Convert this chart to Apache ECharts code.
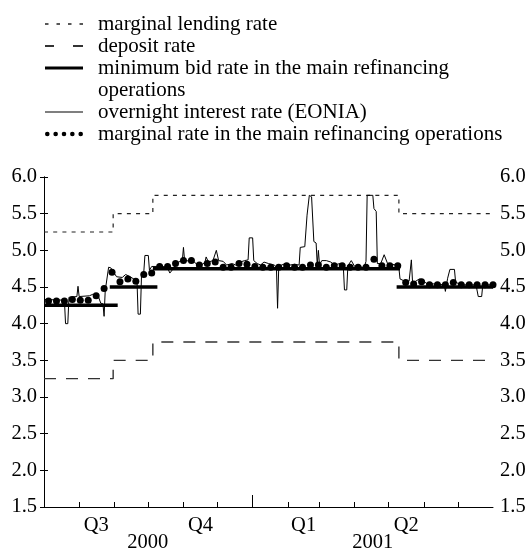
<!DOCTYPE html>
<html>
<head>
<meta charset="utf-8">
<script src="https://cdn.jsdelivr.net/npm/echarts@6/dist/echarts.min.js"></script>
<style>
  html, body { margin: 0; padding: 0; background: #fff; }
  #chart { width: 530px; height: 548px; }
</style>
</head>
<body>
<div id="chart"></div>
<script>
// ECB rates, July 2000 - July 2001
const lendingRate = [['2000-07-01', 5.25], ['2000-08-31', 5.5], ['2000-10-05', 5.75], ['2001-05-10', 5.5], ['2001-07-31', 5.5]];
const depositRate = [['2000-07-01', 3.25], ['2000-08-31', 3.5], ['2000-10-05', 3.75], ['2001-05-10', 3.5], ['2001-07-31', 3.5]];
// minimum bid rate: [from, to, rate]
const minBidRate = [
  ['2000-07-01', '2000-09-04', 4.25],
  ['2000-08-28', '2000-10-09', 4.5],
  ['2000-10-05', '2001-05-11', 4.75],
  ['2001-05-08', '2001-08-01', 4.5]
];
// marginal rate of the weekly tenders, first settlement 5 July 2000
const firstTender = '2000-07-05';
const marginalRate = [
  4.31, 4.31, 4.31, 4.33, 4.32, 4.32, 4.38, 4.48, 4.70, 4.57,
  4.61, 4.58, 4.67, 4.69, 4.78, 4.78, 4.82, 4.86, 4.86, 4.80,
  4.82, 4.84, 4.77, 4.77, 4.82, 4.81, 4.78, 4.77, 4.77, 4.77,
  4.79, 4.77, 4.77, 4.80, 4.80, 4.77, 4.79, 4.79, 4.77, 4.77,
  4.77, 4.88, 4.79, 4.79, 4.79, 4.56, 4.54, 4.57, 4.53, 4.53,
  4.53, 4.56, 4.53, 4.53, 4.53, 4.53, 4.53
];
// EONIA
const eonia = [
  ['2000-07-01', 4.33], ['2000-07-19', 4.32], ['2000-07-20', 4.00], ['2000-07-22', 4.00],
  ['2000-07-23', 4.36], ['2000-07-30', 4.37], ['2000-07-31', 4.51], ['2000-08-01', 4.37],
  ['2000-08-10', 4.38], ['2000-08-13', 4.40], ['2000-08-18', 4.37], ['2000-08-20', 4.28],
  ['2000-08-22', 4.27], ['2000-08-23', 4.10], ['2000-08-24', 4.45], ['2000-08-27', 4.77],
  ['2000-08-29', 4.76], ['2000-08-31', 4.71], ['2000-09-03', 4.64], ['2000-09-08', 4.63],
  ['2000-09-11', 4.67], ['2000-09-15', 4.64], ['2000-09-19', 4.60], ['2000-09-21', 4.59],
  ['2000-09-22', 4.13], ['2000-09-24', 4.13], ['2000-09-25', 4.66], ['2000-09-27', 4.70],
  ['2000-09-28', 4.93], ['2000-10-01', 4.93], ['2000-10-02', 4.73], ['2000-10-04', 4.78],
  ['2000-10-14', 4.78], ['2000-10-18', 4.76], ['2000-10-20', 4.69], ['2000-10-23', 4.75],
  ['2000-10-26', 4.83], ['2000-10-31', 4.86], ['2000-11-01', 5.04], ['2000-11-02', 4.86],
  ['2000-11-10', 4.85], ['2000-11-14', 4.79], ['2000-11-17', 4.80], ['2000-11-20', 4.84],
  ['2000-11-21', 4.91], ['2000-11-23', 4.84], ['2000-11-27', 4.86], ['2000-11-30', 5.00],
  ['2000-12-02', 4.86], ['2000-12-06', 4.85], ['2000-12-09', 4.80], ['2000-12-14', 4.82],
  ['2000-12-17', 4.80], ['2000-12-21', 4.84], ['2000-12-25', 4.86], ['2000-12-28', 4.87],
  ['2000-12-29', 5.17], ['2001-01-01', 5.17], ['2001-01-02', 4.86], ['2001-01-05', 4.82],
  ['2001-01-08', 4.80], ['2001-01-11', 4.84], ['2001-01-15', 4.82], ['2001-01-20', 4.80],
  ['2001-01-22', 4.77], ['2001-01-23', 4.21], ['2001-01-24', 4.76], ['2001-01-25', 4.79],
  ['2001-01-30', 4.82], ['2001-02-03', 4.80], ['2001-02-07', 4.81], ['2001-02-11', 4.80],
  ['2001-02-12', 5.04], ['2001-02-16', 5.05], ['2001-02-18', 5.48], ['2001-02-20', 5.75],
  ['2001-02-22', 5.73], ['2001-02-24', 5.12], ['2001-02-26', 5.10], ['2001-02-27', 4.80],
  ['2001-02-28', 5.00], ['2001-03-01', 4.80], ['2001-03-03', 4.86], ['2001-03-07', 4.86],
  ['2001-03-11', 4.84], ['2001-03-14', 4.80], ['2001-03-19', 4.82], ['2001-03-22', 4.78],
  ['2001-03-23', 4.46], ['2001-03-25', 4.46], ['2001-03-26', 4.79], ['2001-03-29', 4.86],
  ['2001-03-30', 4.87], ['2001-04-01', 4.78], ['2001-04-08', 4.77], ['2001-04-10', 4.80],
  ['2001-04-11', 4.85], ['2001-04-12', 5.75], ['2001-04-17', 5.75], ['2001-04-18', 5.57],
  ['2001-04-20', 5.53], ['2001-04-21', 4.82], ['2001-04-24', 4.82], ['2001-04-27', 4.94],
  ['2001-04-30', 4.82], ['2001-05-03', 4.81], ['2001-05-08', 4.80], ['2001-05-10', 4.76],
  ['2001-05-11', 4.61], ['2001-05-15', 4.58], ['2001-05-19', 4.58], ['2001-05-21', 4.87],
  ['2001-05-22', 4.58], ['2001-05-24', 4.57], ['2001-05-28', 4.61], ['2001-05-31', 4.60],
  ['2001-06-03', 4.55], ['2001-06-19', 4.53], ['2001-06-20', 4.44], ['2001-06-21', 4.53],
  ['2001-06-22', 4.62], ['2001-06-24', 4.74], ['2001-06-28', 4.74], ['2001-06-29', 4.57],
  ['2001-07-03', 4.53], ['2001-07-17', 4.53], ['2001-07-19', 4.37], ['2001-07-22', 4.37],
  ['2001-07-23', 4.53], ['2001-07-31', 4.53]
];

// axis
const axisStart = '2000-07-01';
const axisEnd = '2001-08-01';
const monthTicks = ['2000-08-01', '2000-09-01', '2000-10-01', '2000-11-01', '2000-12-01', '2001-01-01',
  '2001-02-01', '2001-03-01', '2001-04-01', '2001-05-01', '2001-06-01', '2001-07-01'];
const yearTick = ['2001-01-01'];
const quarterLabels = ['Q3', 'Q4', 'Q1', 'Q2'];
const quarterSpans = [['2000-07-01', '2000-10-01'], ['2000-10-01', '2001-01-01'], ['2001-01-01', '2001-04-01'], ['2001-04-01', '2001-07-01']];
const yearLabels = ['2000', '2001'];
const yearSpans = [['2000-07-01', '2000-12-31'], ['2001-01-01', '2001-08-01']];

const names = {
  lending: 'marginal lending rate',
  deposit: 'deposit rate',
  minBid: 'minimum bid rate in the main refinancing operations',
  eonia: 'overnight interest rate (EONIA)',
  marginal: 'marginal rate in the main refinancing operations'
};

const day = s => (Date.parse(s) - Date.parse(axisStart)) / 864e5;
const mid = span => (day(span[0]) + day(span[1])) / 2;

const quarterPos = quarterSpans.map(mid);
const yearPos = yearSpans.map(mid);

const minBidData = [];
minBidRate.forEach(seg => {
  minBidData.push([day(seg[0]), seg[2]], [day(seg[1]), seg[2]], [day(seg[1]), '-']);
});
const marginalData = marginalRate.map((v, i) => [day(firstTender) + 7 * i, v]);

const font = 'Liberation Serif, Times New Roman, serif';
const txt = { fontFamily: font, fontSize: 20.5, color: '#000' };

// legend keys, 38 px wide
const icons = {
  lending: 'path://M0,0h3.5v1.6h-3.5zM11.5,0h3.5v1.6h-3.5zM23,0h3.5v1.6h-3.5zM34.5,0h3.5v1.6h-3.5z',
  deposit: 'path://M0,0h9v1.8h-9zM28,0h10v1.8h-10z',
  minBid: 'path://M0,0h38v3h-38z',
  eonia: 'path://M0,0h38v1.2h-38z',
  marginal: 'path://M0,2.3a2.3,2.3 0 1,0 4.6,0a2.3,2.3 0 1,0 -4.6,0M8.35,2.3a2.3,2.3 0 1,0 4.6,0a2.3,2.3 0 1,0 -4.6,0M16.7,2.3a2.3,2.3 0 1,0 4.6,0a2.3,2.3 0 1,0 -4.6,0M25.05,2.3a2.3,2.3 0 1,0 4.6,0a2.3,2.3 0 1,0 -4.6,0M33.4,2.3a2.3,2.3 0 1,0 4.6,0a2.3,2.3 0 1,0 -4.6,0'
};

const legendText = { fontFamily: font, fontSize: 21, color: '#000', lineHeight: 22 };
const legendBase = {
  orient: 'vertical', left: 45, padding: 0, itemGap: 0,
  itemWidth: 38, itemHeight: 14, selectedMode: false,
  textStyle: Object.assign({}, legendText, { padding: [0, 0, 0, 10] })
};

const chart = echarts.init(document.getElementById('chart'));
const hidden = { show: false };
const baseX = { type: 'value', position: 'bottom', offset: 0, min: 0, max: day(axisEnd), splitLine: hidden, gridIndex: 0 };

chart.setOption({
  animation: false,
  title: {
    text: 'operations', left: 98, top: 79, padding: 0,
    textStyle: Object.assign({}, legendText, { fontWeight: 'normal' })
  },
  legend: [
    Object.assign({}, legendBase, {
      top: 13,
      data: [
        { name: names.lending, icon: icons.lending },
        { name: names.deposit, icon: icons.deposit },
        { name: names.minBid, icon: icons.minBid }
      ],
      formatter: n => n === names.minBid ? 'minimum bid rate in the main refinancing' : n
    }),
    Object.assign({}, legendBase, {
      top: 101,
      data: [
        { name: names.eonia, icon: icons.eonia },
        { name: names.marginal, icon: icons.marginal }
      ]
    })
  ],
  grid: { left: 44, right: 37, top: 177, bottom: 41, outerBoundsMode: 'none', containLabel: false },
  xAxis: [
    Object.assign({}, baseX, {
      axisLine: { lineStyle: { color: '#000', width: 1 } },
      axisTick: { inside: true, length: 5, customValues: monthTicks.map(day), lineStyle: { color: '#000' } },
      axisLabel: hidden
    }),
    Object.assign({}, baseX, {
      axisLine: hidden,
      axisTick: { inside: true, length: 12, customValues: yearTick.map(day), lineStyle: { color: '#000' } },
      axisLabel: hidden
    }),
    Object.assign({}, baseX, {
      axisLine: hidden, axisTick: hidden,
      axisLabel: Object.assign({}, txt, {
        margin: 8, customValues: quarterPos,
        formatter: v => quarterLabels[quarterPos.indexOf(v)]
      })
    }),
    Object.assign({}, baseX, {
      axisLine: hidden, axisTick: hidden,
      axisLabel: Object.assign({}, txt, {
        margin: 25, customValues: yearPos,
        formatter: v => yearLabels[yearPos.indexOf(v)]
      })
    })
  ],
  yAxis: [
    {
      type: 'value', min: 1.5, max: 6.0, interval: 0.5, position: 'left',
      splitLine: hidden,
      axisLine: { show: true, lineStyle: { color: '#000' } },
      axisTick: { show: true, inside: true, length: 4, lineStyle: { color: '#000' } },
      axisLabel: Object.assign({}, txt, { margin: 7, formatter: v => v.toFixed(1) })
    },
    {
      type: 'value', min: 1.5, max: 6.0, interval: 0.5, position: 'right',
      splitLine: hidden,
      axisLine: { show: true, lineStyle: { color: '#000' } },
      axisTick: { show: true, inside: true, length: 4, lineStyle: { color: '#000' } },
      axisLabel: Object.assign({}, txt, { margin: 7, formatter: v => v.toFixed(1) })
    }
  ],
  series: [
    {
      name: names.lending, type: 'line', step: 'end', symbol: 'none',
      data: lendingRate.map(p => [day(p[0]), p[1]]),
      color: '#222', lineStyle: { width: 1.2, type: [4, 5.2] }
    },
    {
      name: names.deposit, type: 'line', step: 'end', symbol: 'none',
      data: depositRate.map(p => [day(p[0]), p[1]]),
      color: '#333', lineStyle: { width: 1.4, type: [12, 10] }
    },
    {
      name: names.minBid, type: 'line', symbol: 'none', connectNulls: false,
      data: minBidData,
      color: '#000', lineStyle: { width: 3.5 }
    },
    {
      name: names.eonia, type: 'line', symbol: 'none',
      data: eonia.map(p => [day(p[0]), p[1]]),
      color: '#000', lineStyle: { width: 1 }
    },
    {
      name: names.marginal, type: 'scatter', symbol: 'circle', symbolSize: 7,
      data: marginalData,
      color: '#000', itemStyle: { opacity: 1 }, z: 5
    }
  ]
});
</script>
</body>
</html>
